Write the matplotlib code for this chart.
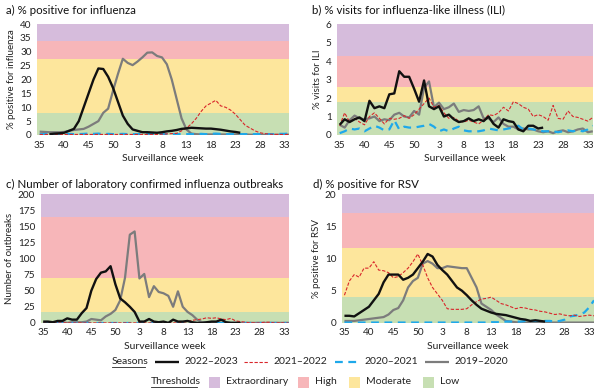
import numpy as np
import matplotlib.pyplot as plt
from matplotlib.lines import Line2D
from matplotlib.patches import Rectangle

plt.rcParams['font.family'] = ['Lato', 'DejaVu Sans']

# surveillance weeks 35..52 then 1..34
weeks = list(range(35, 53)) + list(range(1, 35))
tick_weeks = [35, 40, 45, 50, 3, 8, 13, 18, 23, 28, 33]

seasons = ['2022\u20132023', '2021\u20132022', '2020\u20132021', '2019\u20132020']
season_colors = ['#111111', '#d9262b', '#1ea8ea', '#7c7c7c']
season_styles = [(0, ()), (0, (3, 1.5)), (0, (3.5, 2.5)), (0, ())]
season_widths = [1.7, 0.8, 1.6, 1.6]

thresholds = ['Extraordinary', 'High', 'Moderate', 'Low']
threshold_colors = ['#d6bcdc', '#f7b6b9', '#fde69c', '#c7dfb3']

# a) % positive for influenza
flu_2223 = [None, None, 0.3, 0.5, 0.6, 0.8, 1.5, 2.2, 5, 10, 15, 20, 24, 23.8, 21, 17, 12, 7,
            4, 2, 1.5, 1.0, 1.0, 0.9, 0.8, 1.0, 1.3, 1.5, 1.8, 2.2, 2.4, 2.6, 2.5, 2.4, 2.3, 2.3,
            2.1, 1.9, 1.6, 1.3, 1.1, 0.8]
flu_2122 = [0.2] * 25 + [0.3, 0.4, 0.5, 0.6, 1.5, 2.5, 4, 6, 8.5, 10.5, 11.5, 12.5, 10.5, 10, 9,
                         7.5, 5.5, 3.5, 2.5, 1.5, 0.8, 0.5, 0.3, 0.2, 0.2, 0.2, 0.2]
flu_2021 = [0.3, 0.3, 0.4, 0.3, 0.3, 0.3, 0.4, 0.3, 0.3, 0.4, 0.5, 0.4, 0.5, 0.3, 0.4, 0.3, 0.3,
            0.4, 0.3, 0.3, 0.3, 0.3, 0.4, 0.3, 0.3, 0.3, 0.3, 0.3, 0.3, 0.3, 0.3, 0.3, 0.3, 0.4,
            0.3, 0.4, 0.5, 0.4, 0.3, 0.3, 0.3, 0.3, 0.3, 0.3, 0.3, 0.3, 0.3, 0.3, 0.3, 0.4, 0.4, 0.5]
flu_1920 = [1.2, 1.1, 1.0, 1.0, 1.0, 1.1, 1.5, 1.8, 2.0, 2.2, 3.0, 4.0, 5.0, 8, 9.5, 16, 22, 27.5,
            26, 25.2, 26.5, 28, 29.7, 29.8, 28.5, 28, 25.5, 20, 13, 6, 2, 0.5, 0.3, 0.2, 0.2, 0.2,
            0.2, 0.2, 0.2, 0.2, 0.2, 0.2, 0.2, 0.1, 0.1, 0.1, 0.1, 0.1, 0.1, 0.1, 0.1, 0.1]

# b) % visits for ILI
ili_2223 = [0.55, 0.85, 0.7, 0.85, 0.95, 0.75, 1.85, 1.45, 1.55, 1.45, 2.2, 2.25, 3.45, 3.15,
            3.15, 2.5, 1.8, 2.95, 1.55, 1.4, 1.55, 1.0, 1.1, 0.85, 0.7, 0.75, 0.9, 0.75, 0.85,
            0.75, 1.0, 0.6, 0.4, 0.85, 0.75, 0.7, 0.3, 0.2, 0.5, 0.5, 0.35, 0.4]
ili_2122 = [0.5, 1.2, 0.7, 0.9, 0.7, 0.55, 1.0, 1.2, 0.9, 0.6, 0.9, 0.85, 0.9, 1.05, 0.9, 1.1,
            1.4, 1.7, 2.0, 1.5, 1.6, 1.2, 0.9, 0.95, 0.75, 0.7, 0.8, 0.7, 0.6, 0.8, 1.1, 1.05,
            1.2, 1.5, 1.3, 1.8, 1.7, 1.5, 1.4, 1.0, 1.1, 1.0, 0.8, 1.6, 0.9, 0.85, 1.3, 1.0,
            0.95, 0.85, 0.75, 0.95]
ili_2021 = [0.1, 0.2, 0.35, 0.3, 0.35, 0.2, 0.35, 0.5, 0.4, 0.25, 0.3, 0.8, 0.3, 0.45, 0.4, 0.4,
            0.45, 0.5, 0.6, 0.45, 0.2, 0.3, 0.2, 0.35, 0.45, 0.25, 0.2, 0.2, 0.2, 0.25, 0.35, 0.3,
            0.25, 0.3, 0.35, 0.4, 0.5, 0.3, 0.35, 0.3, 0.25, 0.2, 0.2, 0.2, 0.15, 0.2, 0.25, 0.2,
            0.25, 0.2, 0.3, 0.5]
ili_1920 = [0.55, 0.4, 0.8, 1.05, 0.9, 0.85, 0.9, 1.0, 0.75, 0.85, 0.8, 1.1, 1.2, 1.0, 0.95, 1.3,
            1.1, 2.55, 2.9, 1.5, 1.75, 1.4, 1.5, 1.7, 1.25, 1.35, 1.3, 1.35, 1.55, 0.9, 0.9, 0.7,
            0.95, 0.6, 0.45, 0.45, 0.3, 0.35, 0.3, 0.3, 0.2, 0.15, 0.2, 0.1, 0.2, 0.25, 0.15, 0.2,
            0.3, 0.35, 0.15, 0.2]

# c) number of lab confirmed influenza outbreaks
out_2223 = [2, 2, 1, 3, 3, 7, 5, 5, 15, 23, 50, 68, 78, 80, 88, 60, 38, 32, 25, 17, 2, 2, 6, 2, 1,
            2, 0, 5, 2, 2, 3, 1, 0, 0, 1, 2, 2, 5, 1, 0, 0, 0]
out_2122 = [0] * 29 + [1, 2, 4, 5, 6, 8, 7, 8, 6, 5, 7, 3, 2, 1, 0, 0, 0, 1, 1, 0, 0, 0, 0]
out_2021 = [0] * 52
out_1920 = [1, 1, 0, 0, 1, 0, 1, 1, 1, 2, 6, 5, 4, 10, 14, 20, 35, 70, 137, 142, 69, 76, 40, 57,
            48, 46, 42, 25, 49, 25, 17, 12, 5, 1, 0, 0, 0, 0, 0, 0, 0, 0, 0, 0, 0, 0, 0, 0, 0, 0,
            0, 0]

# d) % positive for RSV
rsv_2223 = [1.1, 1.1, 1.0, 1.5, 2.0, 2.5, 3.5, 4.5, 6.3, 7.5, 7.5, 7.5, 6.7, 7.0, 7.5, 8.5, 9.5,
            10.7, 10.3, 9.0, 8.2, 7.5, 6.5, 5.5, 5.0, 4.3, 3.5, 2.8, 2.2, 1.9, 1.6, 1.4, 1.3, 1.2,
            1.0, 0.8, 0.6, 0.5, 0.3, 0.4, 0.3, 0.2]
rsv_2122 = [4.3, 6.5, 7.5, 7.1, 8.5, 8.5, 9.5, 8.2, 8.1, 7.8, 7.0, 7.2, 7.8, 8.5, 9.5, 10.7, 9.0,
            7.0, 5.5, 4.5, 3.5, 2.2, 2.1, 2.1, 2.1, 2.2, 2.8, 3.3, 3.7, 3.8, 4.0, 3.5, 3.0, 2.8,
            2.5, 2.2, 2.4, 2.3, 2.1, 2.0, 1.8, 1.7, 1.5, 1.3, 1.4, 1.2, 1.1, 1.2, 1.0, 1.1, 1.2,
            1.1]
rsv_2021 = [0.05] * 30 + [0.1, 0.1, 0.1, 0.2, 0.2, 0.2, 0.2, 0.3, 0.3, 0.3, 0.3, 0.3, 0.3, 0.2,
                          0.3, 0.5, 1.0, 1.1, 1.3, 1.6, 2.4, 3.5]
rsv_1920 = [0.3, 0.3, 0.3, 0.4, 0.5, 0.6, 0.7, 0.8, 0.9, 1.3, 2.0, 2.3, 3.5, 5.5, 6.5, 7.0, 9.2,
            9.6, 9.2, 8.5, 8.5, 8.8, 8.7, 8.6, 8.5, 8.5, 7.0, 5.5, 3.0, 2.5, 2.0, 1.3, 0.8, 0.3,
            0.2, 0.1, 0.05, 0.05, 0.05, 0.05, 0.05, 0.05, 0.05, 0.05, 0.05, 0.05, 0.05, 0.05,
            0.05, 0.05, 0.05, 0.05]

# band edges (low, moderate, high, extraordinary, top)
bands_a = [0, 8, 27.3, 33.8, 40]
bands_b = [0, 1.8, 2.6, 4.3, 6]
bands_c = [0, 17, 69, 165, 200]
bands_d = [0, 4, 11.6, 17, 20]

panels = [
    ('a) % positive for influenza', '% positive for influenza', [flu_2223, flu_2122, flu_2021, flu_1920],
     bands_a, [0, 5, 10, 15, 20, 25, 30, 35, 40], [0.062, 0.653, 0.420, 0.285], (6, 10)),
    ('b) % visits for influenza-like illness (ILI)', '% visits for ILI', [ili_2223, ili_2122, ili_2021, ili_1920],
     bands_b, [0, 1, 2, 3, 4, 5, 6], [0.562, 0.653, 0.426, 0.285], (312, 10)),
    ('c) Number of laboratory confirmed influenza outbreaks', 'Number of outbreaks',
     [out_2223, out_2122, out_2021, out_1920], bands_c, [0, 25, 50, 75, 100, 125, 150, 175, 200],
     [0.068, 0.170, 0.413, 0.331], (6, 184)),
    ('d) % positive for RSV', '% positive for RSV', [rsv_2223, rsv_2122, rsv_2021, rsv_1920],
     bands_d, [0, 5, 10, 15, 20], [0.570, 0.170, 0.420, 0.331], (313, 184)),
]

fig = plt.figure(figsize=(6, 3.89), dpi=100)
x = np.arange(len(weeks))
tick_pos = [weeks.index(w) for w in tick_weeks]
band_cols = threshold_colors[::-1]  # low -> extraordinary

fw, fh = 600.0, 389.0
def fx(px):
    return px / fw
def fy(py):
    return 1 - py / fh

for title, ylabel, series, bands, yticks, rect, tpos in panels:
    ax = fig.add_axes(rect)
    for i in range(4):
        ax.axhspan(bands[i], bands[i + 1], color=band_cols[i], lw=0, zorder=0)
    # draw oldest first so 2022-2023 sits on top
    for k in [3, 2, 1, 0]:
        vals = series[k]
        xs = x[:len(vals)]
        ys = np.array([np.nan if v is None else v for v in vals], dtype=float)
        ax.plot(xs, ys, color=season_colors[k], linestyle=season_styles[k],
                lw=season_widths[k], zorder=3 + (3 - k))
    ax.set_xlim(-0.5, 51)
    ax.set_ylim(bands[0], bands[-1])
    ax.set_xticks(tick_pos)
    ax.set_xticklabels([str(w) for w in tick_weeks])
    ax.set_yticks(yticks)
    ax.tick_params(length=0, labelsize=7.2, colors='#222222', pad=4)
    for s in ax.spines.values():
        s.set_visible(False)
    ax.set_ylabel(ylabel, fontsize=7, color='#222222', labelpad=3)
    ax.set_xlabel('Surveillance week', fontsize=7.5, color='#222222', labelpad=3)
    fig.text(fx(tpos[0]), fy(tpos[1]), title, fontsize=8.3, color='#111111', va='center')

# legend rows
txt = dict(fontsize=7.5, color='#222222', va='center')
fig.text(fx(112), fy(362), 'Seasons', **txt)
fig.add_artist(Line2D([fx(112), fx(145)], [fy(367), fy(367)], color='#222222', lw=0.6))
line_x = [155, 244, 335, 425]
for k in range(4):
    fig.add_artist(Line2D([fx(line_x[k]), fx(line_x[k] + 24)], [fy(362), fy(362)],
                          color=season_colors[k], linestyle=season_styles[k],
                          lw=season_widths[k]))
    fig.text(fx(line_x[k] + 29), fy(362), seasons[k], **txt)

fig.text(fx(151), fy(382), 'Thresholds', **txt)
fig.add_artist(Line2D([fx(151), fx(197)], [fy(387), fy(387)], color='#222222', lw=0.6))
sw_x = [209, 298, 349, 423]
for k in range(4):
    fig.add_artist(Rectangle((fx(sw_x[k]), fy(388)), fx(11), 11 / fh,
                             color=threshold_colors[k], lw=0))
    fig.text(fx(sw_x[k] + 17), fy(382), thresholds[k], **txt)

fig.savefig('out.png', dpi=100)
